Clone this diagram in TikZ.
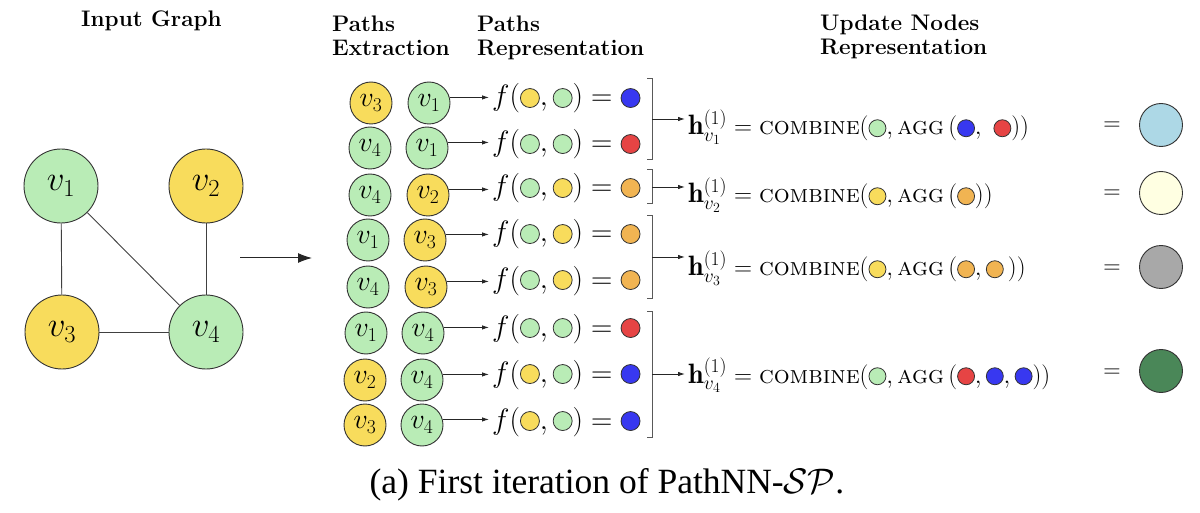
\RequirePackage{fix-cm}
\documentclass[tikz,border=0pt]{standalone}
\usepackage{fontspec}
\newfontfamily\capfont{Liberation Serif}
\usetikzlibrary{arrows.meta}
\definecolor{ngreen}{RGB}{185,236,182}
\definecolor{nyellow}{RGB}{248,220,92}
\definecolor{cblue}{RGB}{56,56,240}
\definecolor{cred}{RGB}{230,68,68}
\definecolor{corange}{RGB}{241,180,82}
\definecolor{clblue}{RGB}{173,216,230}
\definecolor{clyellow}{RGB}{255,255,226}
\definecolor{cgray}{RGB}{168,168,168}
\definecolor{cdgreen}{RGB}{74,135,88}
\newcommand{\dotc}[2][9.5pt]{\tikz[baseline={(0pt,-0.27em)}]\draw[line width=0.8pt,draw=black!80,fill=#2] (0pt,0pt) circle (#1);}
\newcommand{\sdot}[1]{\dotc[8.5pt]{#1}}
\newcommand{\hv}[1]{\mbox{\fontsize{28}{30}\selectfont$\mathbf{h}^{(1)}_{v_{#1}}$}}
\begin{document}
\begin{tikzpicture}[x=1pt,y=-1pt,
  gnode/.style={circle,draw=black!80,line width=0.9pt,minimum size=74pt,inner sep=0pt,font=\fontsize{35}{40}\selectfont},
  pnode/.style={circle,draw=black!80,line width=0.9pt,minimum size=42pt,inner sep=0pt,font=\fontsize{28}{30}\selectfont},
  gfill/.style={fill=ngreen}, yfill/.style={fill=nyellow},
  fexpr/.style={anchor=base west,inner sep=0pt,font=\fontsize{29.5}{32}\selectfont},
  hexpr/.style={anchor=base west,inner sep=0pt,font=\fontsize{25}{28}\selectfont},
  header/.style={anchor=north west,inner sep=0pt,align=left,font=\bfseries\fontsize{22.5}{24}\selectfont},
  edge/.style={draw=black!75,line width=0.9pt},
  parrow/.style={draw=black!85,line width=0.9pt,-{Latex[length=7pt,width=4.5pt]},shorten >=3pt},
  garrow/.style={draw=black!85,line width=1pt,-{Latex[length=14pt,width=10pt]}},
  brk/.style={draw=black!65,line width=1pt},
  bigres/.style={circle,draw=black!80,line width=0.9pt,minimum size=43pt,inner sep=0pt},
  eqs/.style={anchor=base,inner sep=0pt,font=\fontsize{24}{28}\selectfont}
]
\useasboundingbox (0,0) rectangle (1200,513);

% headers
\node[header] (hd1) at (81,11) {Input Graph};
\node[header] (hd2) at (332,16) {Paths\\Extraction};
\node[header] (hd3) at (477,16) {Paths\\Representation};
\node[header] (hd4) at (820,15) {Update Nodes\\Representation};

% input graph
\node[gnode,gfill] (v1) at (61,186) {$v_1$};
\node[gnode,yfill] (v2) at (206,186) {$v_2$};
\node[gnode,yfill] (v3) at (62,332) {$v_3$};
\node[gnode,gfill] (v4) at (206,332) {$v_4$};
\draw[edge] (v1) -- (v3);
\draw[edge] (v1) -- (v4);
\draw[edge] (v2) -- (v4);
\draw[edge] (v3) -- (v4);
\coordinate (ga1) at (240,258);
\coordinate (ga2) at (312,258);
\draw[garrow] (ga1) -- (ga2);

% paths
\node[pnode,yfill] (a1) at (371,103) {$v_3$};
\node[pnode,gfill] (b1) at (429,103) {$v_1$};
\node[pnode,gfill] (a2) at (370,148) {$v_4$};
\node[pnode,gfill] (b2) at (427,148) {$v_1$};
\node[pnode,gfill] (a3) at (370,195) {$v_4$};
\node[pnode,yfill] (b3) at (428,195) {$v_2$};
\node[pnode,gfill] (a4) at (368,240) {$v_1$};
\node[pnode,yfill] (b4) at (425,240) {$v_3$};
\node[pnode,gfill] (a5) at (368,287) {$v_4$};
\node[pnode,yfill] (b5) at (426,287) {$v_3$};
\node[pnode,gfill] (a6) at (366,333) {$v_1$};
\node[pnode,gfill] (b6) at (423,333) {$v_4$};
\node[pnode,yfill] (a7) at (365,380) {$v_2$};
\node[pnode,gfill] (b7) at (422,380) {$v_4$};
\node[pnode,yfill] (a8) at (365,425) {$v_3$};
\node[pnode,gfill] (b8) at (422,425) {$v_4$};

% path representations
\node[fexpr] (f1) at (492,106) {$f(\dotc{nyellow},\dotc{ngreen}) = \dotc{cblue}$};
\node[fexpr] (f2) at (492,152) {$f(\dotc{ngreen},\dotc{ngreen}) = \dotc{cred}$};
\node[fexpr] (f3) at (492,196) {$f(\dotc{ngreen},\dotc{nyellow}) = \dotc{corange}$};
\node[fexpr] (f4) at (492,242) {$f(\dotc{ngreen},\dotc{nyellow}) = \dotc{corange}$};
\node[fexpr] (f5) at (492,288) {$f(\dotc{ngreen},\dotc{nyellow}) = \dotc{corange}$};
\node[fexpr] (f6) at (492,336) {$f(\dotc{ngreen},\dotc{ngreen}) = \dotc{cred}$};
\node[fexpr] (f7) at (492,382) {$f(\dotc{nyellow},\dotc{ngreen}) = \dotc{cblue}$};
\node[fexpr] (f8) at (492,429) {$f(\dotc{nyellow},\dotc{ngreen}) = \dotc{cblue}$};
\foreach \i in {1,...,8}{
  \draw[parrow] (b\i.15) -- (b\i.15 -| f\i.west);
}

% brackets
\coordinate (g1t) at (652,79);  \coordinate (g1b) at (652,160); \coordinate (g1m) at (652,119);
\coordinate (g2t) at (652,170); \coordinate (g2b) at (652,204); \coordinate (g2m) at (652,187);
\coordinate (g3t) at (652,216); \coordinate (g3b) at (652,298); \coordinate (g3m) at (652,257);
\coordinate (g4t) at (652,311); \coordinate (g4b) at (652,437); \coordinate (g4m) at (652,374);
\foreach \g in {1,2,3,4}{
  \draw[brk] ([xshift=-5pt]g\g t) -- (g\g t) -- (g\g b) -- ([xshift=-5pt]g\g b);
}

% update expressions
\node[hexpr] (h1) at (688,135) {$\hv{1} = \textsc{combine}(\sdot{ngreen},\textsc{agg}\,(\sdot{cblue},\ \sdot{cred}))$};
\node[hexpr] (h2) at (688,203) {$\hv{2} = \textsc{combine}(\sdot{nyellow},\textsc{agg}\,(\sdot{corange}))$};
\node[hexpr] (h3) at (688,276) {$\hv{3} = \textsc{combine}(\sdot{nyellow},\textsc{agg}\,(\sdot{corange},\sdot{corange}\,))$};
\node[hexpr] (h4) at (688,383) {$\hv{4} = \textsc{combine}(\sdot{ngreen},\textsc{agg}\,(\sdot{cred},\sdot{cblue},\sdot{cblue}))$};
\foreach \g in {1,2,3,4}{
  \draw[parrow] (g\g m) -- (g\g m -| h\g.west);
}

% results
\node[eqs] (e1) at (1112,131) {$=$};
\node[eqs] (e2) at (1112,199) {$=$};
\node[eqs] (e3) at (1112,273) {$=$};
\node[eqs] (e4) at (1112,377) {$=$};
\node[bigres,fill=clblue] (r1) at (1161,125) {};
\node[bigres,fill=clyellow] (r2) at (1161,193) {};
\node[bigres,fill=cgray] (r3) at (1161,267) {};
\node[bigres,fill=cdgreen] (r4) at (1161,371) {};

% caption
\node[anchor=base,inner sep=0pt,font=\capfont\fontsize{35.5}{40}\selectfont] (cap) at (607,493) {(a) First iteration of PathNN-$\mathcal{SP}$.};
\end{tikzpicture}
\end{document}
